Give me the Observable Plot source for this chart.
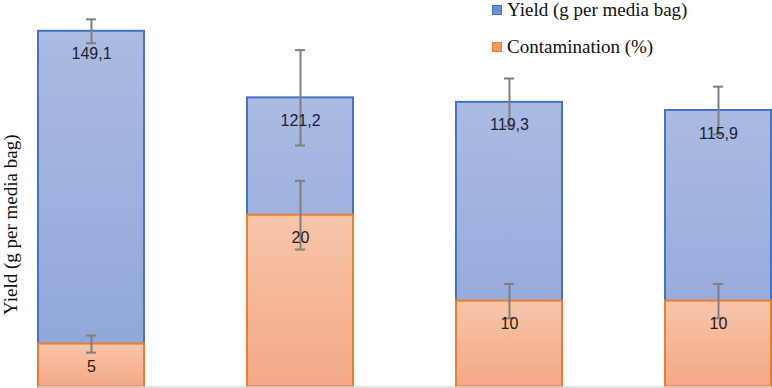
<!DOCTYPE html>
<html>
<head>
<meta charset="utf-8">
<script src="https://cdn.jsdelivr.net/npm/d3@7"></script>
<script src="https://cdn.jsdelivr.net/npm/@observablehq/plot@0.6"></script>
<style>
  html, body { margin: 0; padding: 0; background: #fff; }
  #wrap { position: relative; width: 772px; height: 388px; overflow: hidden; }
  .legend { position: absolute; left: 492px; font-family: "Liberation Serif", "Times New Roman", serif; font-size: 19px; color: #111; white-space: nowrap; line-height: 19px; }
  .legend .sw { display: inline-block; width: 8px; height: 8px; margin-right: 5px; vertical-align: 1px; }
</style>
</head>
<body>
<div id="wrap"></div>
<script>
// ---- data ----
const categories = ["A", "B", "C", "D"];
const yieldValues = [149.1, 121.2, 119.3, 115.9];
const yieldErrors = [5, 20, 10, 10];
const contaminationValues = [5, 20, 10, 10];
const contaminationErrors = [1, 4, 2, 2];
const yAxisLabel = "Yield (g per media bag)";
const legendLabels = ["Yield (g per media bag)", "Contamination (%)"];

const fmt = v => String(v).replace(".", ",");
const yieldData = categories.map((c, i) => ({c, v: yieldValues[i], e: yieldErrors[i]}));
const contData = categories.map((c, i) => ({c, v: contaminationValues[i], e: contaminationErrors[i]}));

const W = 772, H = 388;
const common = {
  width: W, height: H,
  marginLeft: 38, marginRight: 0.5, marginTop: 0, marginBottom: 1.5,
  x: {type: "band", domain: categories, paddingInner: 0.4935, paddingOuter: 0, axis: null},
  style: {background: "transparent", overflow: "visible"}
};

function gradient(id, top, bottom) {
  return () => {
    const defs = d3.create("svg:defs");
    const g = defs.append("linearGradient").attr("id", id)
      .attr("x1", 0).attr("y1", 0).attr("x2", 0).attr("y2", 1);
    g.append("stop").attr("offset", "0%").attr("stop-color", top);
    g.append("stop").attr("offset", "100%").attr("stop-color", bottom);
    return defs.node();
  };
}

function errorMarks(data) {
  return [
    Plot.ruleX(data, {x: "c", y1: d => d.v - d.e, y2: d => d.v + d.e, stroke: "#7f7f7f", strokeWidth: 2}),
    Plot.tickY(data, {x: "c", y: d => d.v + d.e, stroke: "#7f7f7f", strokeWidth: 2, insetLeft: 48, insetRight: 48}),
    Plot.tickY(data, {x: "c", y: d => d.v - d.e, stroke: "#7f7f7f", strokeWidth: 2, insetLeft: 48, insetRight: 48})
  ];
}

const plotA = Plot.plot({
  ...common,
  y: {domain: [0, 162], axis: null},
  marks: [
    gradient("gBlue", "#abbbe2", "#8da5d7"),
    Plot.barY(yieldData, {x: "c", y: "v", fill: "url(#gBlue)", stroke: "#4472C4", strokeWidth: 2}),
    ...errorMarks(yieldData),
    Plot.text(yieldData, {x: "c", y: "v", text: d => fmt(d.v), dy: 23, fill: "#1b2238",
      fontFamily: "Liberation Sans, Arial, sans-serif", fontSize: 16}),
    Plot.text([yAxisLabel], {frameAnchor: "left", text: d => d, rotate: -90, textAnchor: "middle", dx: -28, dy: 31,
      fontFamily: "Liberation Serif, Times New Roman, serif", fontSize: 19, fill: "#111"})
  ]
});

const plotB = Plot.plot({
  ...common,
  y: {domain: [0, 45], axis: null},
  marks: [
    gradient("gOrange", "#f7c5aa", "#f4a886"),
    Plot.barY(contData, {x: "c", y: "v", fill: "url(#gOrange)", stroke: "#ED7D31", strokeWidth: 2}),
    ...errorMarks(contData),
    Plot.text(contData, {x: "c", y: "v", text: d => fmt(d.v), dy: 23, fill: "#2a1a12",
      fontFamily: "Liberation Sans, Arial, sans-serif", fontSize: 16}),
    Plot.ruleY([0], {stroke: "#d9d9d9", strokeWidth: 1.5})
  ]
});

const wrap = document.getElementById("wrap");
plotA.style.position = "absolute"; plotA.style.left = "0"; plotA.style.top = "0";
plotB.style.position = "absolute"; plotB.style.left = "0"; plotB.style.top = "0";
wrap.appendChild(plotA);
wrap.appendChild(plotB);

const swatches = [["#6f8fd2", "#4472C4"], ["#f0985e", "#ED7D31"]];
const tops = [0, 37];
legendLabels.forEach((lab, i) => {
  const div = document.createElement("div");
  div.className = "legend";
  div.style.top = tops[i] + "px";
  const sw = document.createElement("span");
  sw.className = "sw";
  sw.style.background = swatches[i][0];
  sw.style.border = "1px solid " + swatches[i][1];
  div.appendChild(sw);
  div.appendChild(document.createTextNode(lab));
  wrap.appendChild(div);
});
</script>
</body>
</html>
